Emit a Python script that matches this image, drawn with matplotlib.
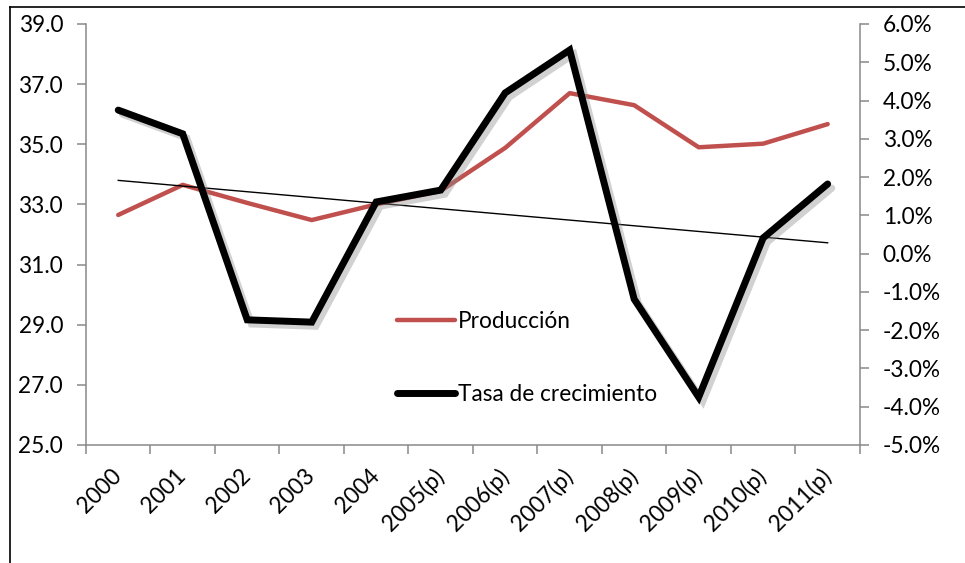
import numpy as np
import matplotlib
matplotlib.use("Agg")
import matplotlib.pyplot as plt
import matplotlib.patheffects as pe
from matplotlib.lines import Line2D

plt.rcParams["font.family"] = ["Lato", "DejaVu Sans"]

years = ["2000", "2001", "2002", "2003", "2004", "2005(p)", "2006(p)",
         "2007(p)", "2008(p)", "2009(p)", "2010(p)", "2011(p)"]
produccion = [32.65, 33.65, 33.05, 32.48, 33.0, 33.45, 34.88, 36.7, 36.3, 34.9, 35.02, 35.67]
tasa = [3.75, 3.13, -1.73, -1.79, 1.35, 1.66, 4.2, 5.32, -1.19, -3.75, 0.41, 1.82]  # percent

RED = "#C0504D"
GRAY = "#898989"
FS = 16.3

fig = plt.figure(figsize=(9.65, 5.63), dpi=100)
ax = fig.add_axes([0.0891, 0.2096, 0.802, 0.7478])
ax2 = ax.twinx()

x = np.arange(len(years))
ax.plot(x, produccion, color=RED, lw=3.2, solid_capstyle="round", label="Producción", zorder=2)

shadow = [pe.SimpleLineShadow(offset=(3, -3), shadow_color="#8c8c8c", alpha=0.4, rho=1),
          pe.Normal()]
ax2.plot(x, tasa, color="black", lw=5.0, solid_joinstyle="miter", solid_capstyle="round",
         path_effects=shadow, label="Tasa de crecimiento", zorder=3)

# linear trend of growth rate
coef = np.polyfit(x, tasa, 1)
ax2.plot(x, np.polyval(coef, x), color="black", lw=1.0, zorder=2)

ax.set_xlim(-0.5, len(years) - 0.5)
ax.set_ylim(25, 39)
ax.set_yticks(np.arange(25, 39.1, 2))
ax.set_yticklabels([f"{v:.1f}" for v in np.arange(25, 39.1, 2)], fontsize=FS)
ax2.set_ylim(-5, 6)
ax2.set_yticks(np.arange(-5, 6.1, 1))
ax2.set_yticklabels([f"{v:.1f}%" for v in np.arange(-5, 6.1, 1)], fontsize=FS)

# ticks at category boundaries, labels at centres
ax.set_xticks(np.arange(-0.5, len(years), 1))
ax.set_xticklabels([])
ax.set_xticks(x, minor=True)
ax.set_xticklabels(years, minor=True, rotation=45, ha="right", va="center",
                   rotation_mode="anchor", fontsize=FS)
ax.tick_params(axis="x", which="minor", length=0, pad=20)

for a in (ax, ax2):
    for s in a.spines.values():
        s.set_color(GRAY)
        s.set_linewidth(1.1)
    a.spines["top"].set_visible(False)
    a.tick_params(which="major", color=GRAY, width=1.1, length=6.5, pad=10)
ax.spines["right"].set_visible(False)
ax2.spines["left"].set_visible(False)
ax2.spines["bottom"].set_visible(False)

h1, l1 = ax.get_legend_handles_labels()
h2, l2 = ax2.get_legend_handles_labels()
leg = fig.legend(h1 + h2, l1 + l2, loc="upper left", bbox_to_anchor=(0.411, 0.448),
                 frameon=False, fontsize=FS, handlelength=2.6, handletextpad=0.1,
                 labelspacing=2.3, borderpad=0, borderaxespad=0)
for ln in leg.get_lines():
    ln.set_path_effects([])

# frame lines of the picture
fig.add_artist(Line2D([0.0104, 1.0], [0.9876, 0.9876], color="black", lw=1.2))
fig.add_artist(Line2D([0.0104, 0.0104], [0.0, 0.9876], color="black", lw=1.2))

fig.savefig("out.png", dpi=100)
